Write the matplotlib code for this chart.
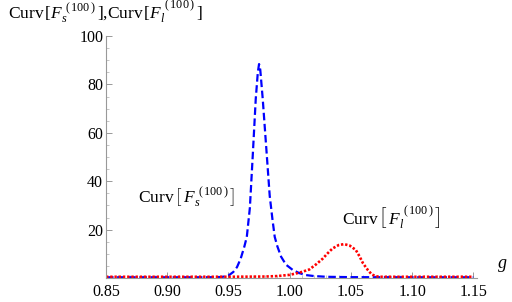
import matplotlib
matplotlib.use("Agg")
import matplotlib.pyplot as plt
from matplotlib.ticker import MultipleLocator, FixedLocator

plt.rcParams['font.family'] = ['Liberation Serif', 'DejaVu Serif']
plt.rcParams['mathtext.fontset'] = 'custom'
plt.rcParams['mathtext.rm'] = 'Liberation Serif'
plt.rcParams['mathtext.it'] = 'Liberation Serif:italic'

# Data
g_s = [0.85, 0.90, 0.93, 0.94, 0.945, 0.950, 0.954, 0.957, 0.960, 0.963, 0.965,
       0.9675, 0.970, 0.9723, 0.974, 0.975, 0.976, 0.978, 0.981, 0.9837, 0.986,
       0.9878, 0.990, 0.993, 0.997, 1.0026, 1.008, 1.0134, 1.02, 1.03, 1.05, 1.10, 1.15]
curv_s = [0.3, 0.3, 0.3, 0.35, 0.45, 1.0, 2.5, 4.5, 8.0, 13.0, 17.0,
          29.0, 52.0, 74.0, 85.0, 88.4, 86.0, 74.0, 53.0, 34.0, 24.0,
          17.0, 13.0, 8.8, 5.5, 3.3, 2.0, 1.2, 0.8, 0.5, 0.35, 0.3, 0.3]

g_l = [0.85, 0.95, 0.98, 0.99, 1.00, 1.008, 1.016, 1.022, 1.027, 1.031, 1.035,
       1.040, 1.0445, 1.049, 1.054, 1.057, 1.060, 1.064, 1.067, 1.070, 1.073, 1.10, 1.15]
curv_l = [0.5, 0.5, 0.6, 0.8, 1.3, 2.2, 3.5, 5.8, 8.0, 10.2, 12.2,
          13.6, 14.0, 13.4, 11.6, 9.0, 6.0, 3.2, 1.5, 0.8, 0.5, 0.5, 0.5]

x_ticks = [0.85, 0.90, 0.95, 1.00, 1.05, 1.10, 1.15]
x_tick_labels = ['0.85', '0.90', '0.95', '1.00', '1.05', '1.10', '1.15']
y_ticks = [20, 40, 60, 80, 100]

fig = plt.figure(figsize=(5.12, 3.02), dpi=100)
ax = fig.add_axes([106/512, 1-278/302, 371/512, 242/302])

ax.plot(g_s, curv_s, color=(0, 0, 1), lw=1.6, dashes=(3.4, 1.6), solid_capstyle='butt')
ax.plot(g_l, curv_l, color=(1, 0, 0), lw=1.9, dashes=(0.9, 0.7))

ax.set_xlim(0.85, 1.153)
ax.set_ylim(0, 100)
for s in ['top', 'right']:
    ax.spines[s].set_visible(False)
for s in ['left', 'bottom']:
    ax.spines[s].set_color('#999999')
    ax.spines[s].set_linewidth(0.8)

ax.xaxis.set_major_locator(FixedLocator(x_ticks))
ax.set_xticklabels(x_tick_labels)
ax.xaxis.set_minor_locator(MultipleLocator(0.01))
ax.yaxis.set_major_locator(FixedLocator(y_ticks))
ax.yaxis.set_minor_locator(MultipleLocator(5))
ax.tick_params(axis='both', which='major', direction='in', length=4, width=0.7,
               color='#999999', labelsize=11.5, pad=2)
ax.tick_params(axis='x', which='major', pad=4)
ax.tick_params(axis='both', which='minor', direction='in', length=2.2, width=0.6,
               color='#bbbbbb')

fig.text(8/512, 1-19/302,
         r'Curv$\,[F_s^{\ (\,100\,)}\,]$,Curv$\,[F_l^{\ (\,100\,)}\,]$',
         fontsize=12.5, ha='left', va='baseline')
fig.text(497/512, 1-268/302, r'$g$', fontsize=13, ha='left', va='baseline')

ax.text(0.876, 33.5, r'Curv$\,\left[\,F_s^{\ (\,100\,)}\,\right]$', fontsize=12.5,
        ha='left', va='center')
ax.text(1.043, 25, r'Curv$\,\left[\,F_l^{\ (\,100\,)}\,\right]$', fontsize=12.5,
        ha='left', va='center')

fig.savefig('out.png', dpi=100)
